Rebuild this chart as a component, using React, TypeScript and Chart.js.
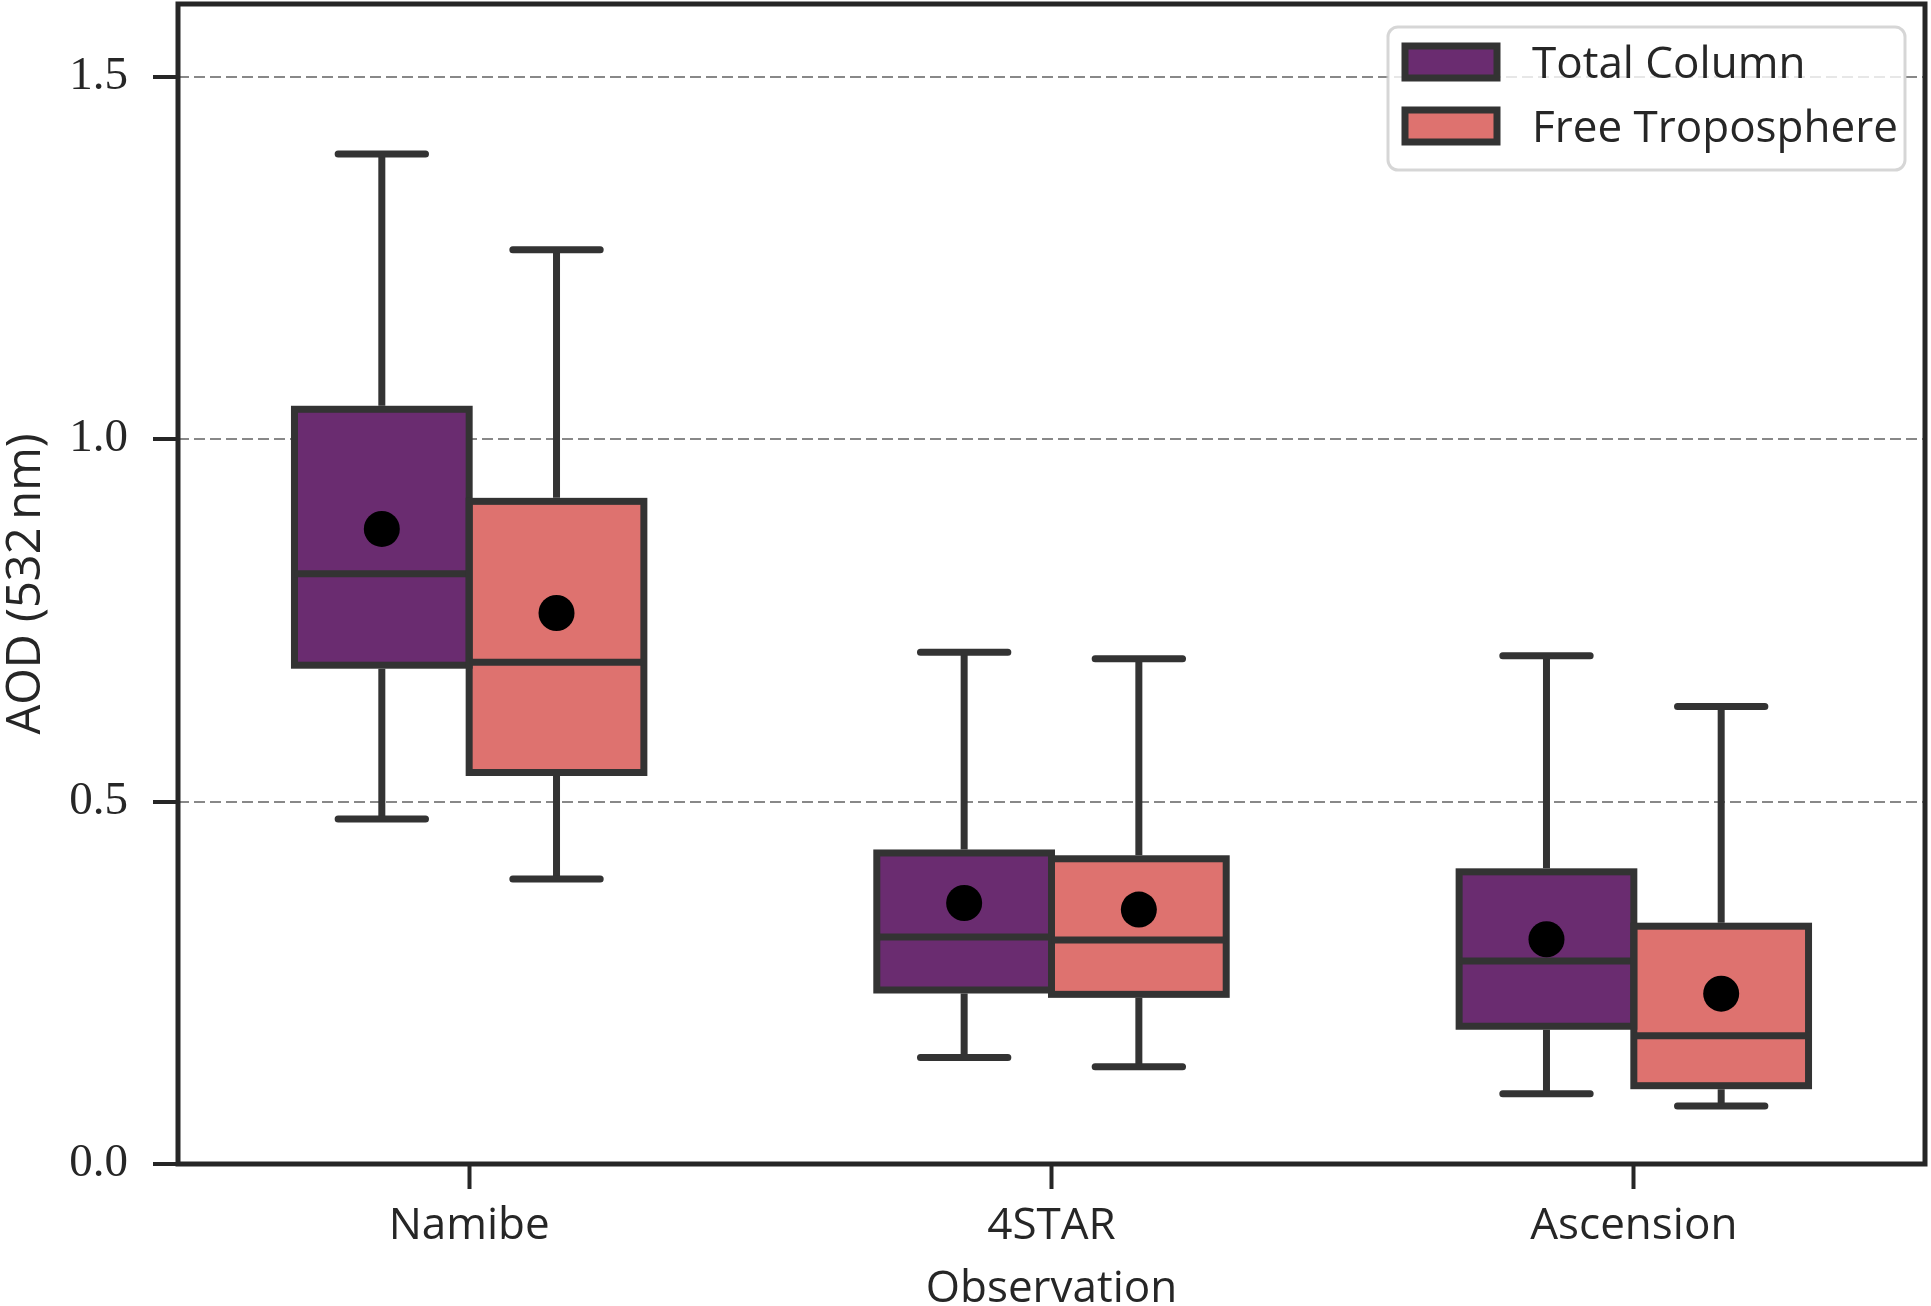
import React, { useEffect, useRef } from 'react';
import { Chart, registerables } from 'chart.js';

Chart.register(...registerables);

const categories = ['Namibe', '4STAR', 'Ascension'];
const seriesNames = ['Total Column', 'Free Troposphere'];
const seriesColors = ['#6A2C70', '#DE726F'];

const totalWhiskerLow = [0.476, 0.147, 0.097];
const totalQ1 = [0.688, 0.24, 0.19];
const totalMedian = [0.814, 0.313, 0.28];
const totalQ3 = [1.041, 0.429, 0.403];
const totalWhiskerHigh = [1.393, 0.706, 0.701];
const totalMean = [0.876, 0.36, 0.31];

const freeWhiskerLow = [0.393, 0.134, 0.08];
const freeQ1 = [0.54, 0.234, 0.108];
const freeMedian = [0.692, 0.309, 0.177];
const freeQ3 = [0.914, 0.421, 0.328];
const freeWhiskerHigh = [1.261, 0.697, 0.631];
const freeMean = [0.76, 0.351, 0.235];

const yTicks = [0, 0.5, 1.0, 1.5];
const yMin = 0;
const yMax = 1.6;

const yTitle = 'AOD (532\u2009nm)';
const xTitle = 'Observation';

const stats = [
  { low: totalWhiskerLow, q1: totalQ1, med: totalMedian, q3: totalQ3, high: totalWhiskerHigh, mean: totalMean },
  { low: freeWhiskerLow, q1: freeQ1, med: freeMedian, q3: freeQ3, high: freeWhiskerHigh, mean: freeMean },
];

const EDGE = '#333333';
const TEXT = '#262626';
const SANS = "'Open Sans', 'DejaVu Sans', sans-serif";
const SERIF = "'Liberation Serif', 'DejaVu Serif', serif";
const LW = 7;

const boxPlugin = {
  id: 'boxDecor',
  afterDatasetsDraw(chart: any) {
    const ctx = chart.ctx;
    const ys = chart.scales.y;
    ctx.save();
    stats.forEach((s, di) => {
      const meta = chart.getDatasetMeta(di);
      meta.data.forEach((bar: any, i: number) => {
        const { x, width } = bar.getProps(['x', 'width'], true);
        const left = x - width / 2;
        const yq1 = ys.getPixelForValue(s.q1[i]);
        const yq3 = ys.getPixelForValue(s.q3[i]);
        const ymed = ys.getPixelForValue(s.med[i]);
        const ylow = ys.getPixelForValue(s.low[i]);
        const yhigh = ys.getPixelForValue(s.high[i]);
        ctx.strokeStyle = EDGE;
        ctx.lineWidth = LW;
        ctx.lineJoin = 'miter';
        ctx.lineCap = 'butt';
        ctx.beginPath();
        ctx.moveTo(x, yq3 - LW / 2);
        ctx.lineTo(x, yhigh);
        ctx.moveTo(x, yq1 + LW / 2);
        ctx.lineTo(x, ylow);
        ctx.stroke();
        ctx.lineCap = 'round';
        ctx.beginPath();
        ctx.moveTo(x - width / 4, yhigh);
        ctx.lineTo(x + width / 4, yhigh);
        ctx.moveTo(x - width / 4, ylow);
        ctx.lineTo(x + width / 4, ylow);
        ctx.stroke();
        ctx.lineCap = 'butt';
        ctx.strokeRect(left, yq3, width, yq1 - yq3);
        ctx.beginPath();
        ctx.moveTo(left, ymed);
        ctx.lineTo(left + width, ymed);
        ctx.stroke();
      });
    });
    stats.forEach((s, di) => {
      const meta = chart.getDatasetMeta(di);
      meta.data.forEach((bar: any, i: number) => {
        const { x } = bar.getProps(['x'], true);
        const ymean = ys.getPixelForValue(s.mean[i]);
        ctx.fillStyle = '#000000';
        ctx.beginPath();
        ctx.arc(x, ymean, 18, 0, Math.PI * 2);
        ctx.fill();
      });
    });
    const a = chart.chartArea;
    ctx.strokeStyle = TEXT;
    ctx.lineWidth = 5;
    ctx.lineJoin = 'miter';
    ctx.strokeRect(a.left, a.top, a.right - a.left, a.bottom - a.top);
    ctx.restore();
  },
  afterDraw(chart: any) {
    const ctx = chart.ctx;
    const a = chart.chartArea;
    ctx.save();
    const lx = a.right - 537;
    const ly = a.top + 23;
    const lw = 517;
    const lh = 143;
    ctx.beginPath();
    ctx.roundRect(lx, ly, lw, lh, 10);
    ctx.fillStyle = 'rgba(255,255,255,0.8)';
    ctx.fill();
    ctx.strokeStyle = 'rgba(204,204,204,0.8)';
    ctx.lineWidth = 3;
    ctx.stroke();
    seriesNames.forEach((name, k) => {
      const py = ly + 19 + k * 64;
      ctx.fillStyle = seriesColors[k];
      ctx.fillRect(lx + 17, py, 92, 32);
      ctx.strokeStyle = EDGE;
      ctx.lineWidth = LW;
      ctx.strokeRect(lx + 17, py, 92, 32);
      ctx.fillStyle = TEXT;
      ctx.font = `44px ${SANS}`;
      ctx.textBaseline = 'alphabetic';
      ctx.textAlign = 'left';
      ctx.fillText(name, lx + 144, py + 32);
    });
    ctx.restore();
  },
};

export default function App() {
  const ref = useRef<HTMLCanvasElement | null>(null);
  useEffect(() => {
    document.body.style.margin = '0';
    const canvas = ref.current;
    if (!canvas) return;
    const chart = new Chart(canvas, {
      type: 'bar',
      data: {
        labels: categories,
        datasets: stats.map((s, k) => ({
          label: seriesNames[k],
          data: s.q1.map((v, i) => [v, s.q3[i]]),
          backgroundColor: seriesColors[k],
          borderWidth: 0,
          categoryPercentage: 0.6,
          barPercentage: 1.0,
        })),
      },
      options: {
        responsive: false,
        animation: false,
        devicePixelRatio: 1,
        events: [],
        layout: { padding: { left: 0, right: 6, top: 4, bottom: 0 } },
        plugins: { legend: { display: false }, tooltip: { enabled: false } },
        scales: {
          x: {
            type: 'category',
            offset: true,
            grid: {
              offset: false,
              drawOnChartArea: false,
              drawTicks: true,
              tickLength: 25,
              tickWidth: 4,
              tickColor: TEXT,
            },
            border: { display: false },
            ticks: { color: TEXT, font: { family: SANS, size: 44 }, padding: 11, maxRotation: 0 },
            title: {
              display: true,
              text: xTitle,
              color: TEXT,
              font: { family: SANS, size: 44 },
              padding: { top: 0, bottom: -10 },
            },
            afterFit: (s: any) => {
              s.height = 142;
              s.paddingLeft = 0;
              s.paddingRight = 0;
            },
          },
          y: {
            type: 'linear',
            min: yMin,
            max: yMax,
            afterBuildTicks: (s: any) => {
              s.ticks = yTicks.map((v) => ({ value: v }));
            },
            grid: {
              color: (c: any) => (c.tick && c.tick.value === 0 ? 'rgba(0,0,0,0)' : '#888888'),
              lineWidth: 2,
              drawTicks: true,
              tickLength: 25,
              tickWidth: 4,
              tickColor: TEXT,
            },
            border: { display: false, dash: [11, 5] },
            ticks: {
              color: TEXT,
              font: { family: SERIF, size: 47 },
              padding: 25,
              callback: (v: any) => Number(v).toFixed(1),
            },
            title: {
              display: true,
              text: yTitle,
              color: TEXT,
              font: { family: SANS, size: 47 },
              padding: { top: -2, bottom: 0 },
            },
            afterFit: (s: any) => {
              s.width = 178;
              s.paddingTop = 0;
              s.paddingBottom = 0;
            },
          },
        },
      },
      plugins: [boxPlugin],
    } as any);
    return () => chart.destroy();
  }, []);
  return (
    <div style={{ width: 1931, height: 1306 }}>
      <canvas ref={ref} width={1931} height={1306} style={{ display: 'block', width: 1931, height: 1306 }} />
    </div>
  );
}
